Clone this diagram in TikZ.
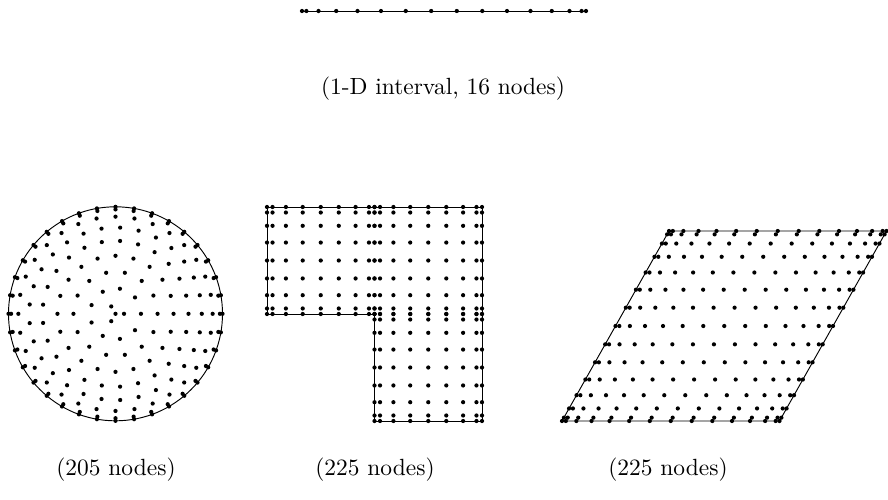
\documentclass[tikz,border=0pt]{standalone}
\usepackage{tikz}
\usetikzlibrary{positioning}

\begin{document}
\begin{tikzpicture}[
  x=0.015cm, y=-0.015cm,
  every node/.style={font=\normalsize, inner sep=0pt},
  edge/.style={line width=0.4pt, black},
  declare function={kte(\a,\b)=asin(0.8*cos(180*\a/\b))/asin(0.8);},
]
 \useasboundingbox (0,0) rectangle (888,500);

 % ---- 1-D interval ----
 \draw[edge] (302,11) -- (586,11);
 \foreach \k in {0,...,15}{
   \pgfmathsetmacro\px{444+142*kte(\k,15)}
   \fill (\px,11) circle[radius=0.9pt];
 }
 \node (lineLbl) at (443,89) {(1-D interval, 16 nodes)};

 % ---- disk: rings of nodes ----
 \coordinate (dc) at (115.5,313.8);
 \draw[edge] (dc) circle[radius=1.605cm];
 \fill (dc) circle[radius=0.9pt];
 \foreach \k/\m in {0/36,1/36,2/32,3/29,4/25,5/20,6/14,7/9,8/3}{
   \pgfmathsetmacro\rr{107*kte(\k,17)}
   \foreach \j in {1,...,\m}{
     \fill[shift={(dc)}] (\j*360/\m:\rr) circle[radius=0.9pt];
   }
 }
 \node (diskLbl) at (116,470) {(205 nodes)};

 % ---- L-shaped domain, three 9x9 blocks ----
 \draw[edge] (267,207) -- (482,207) -- (482,421) -- (374.5,421)
   -- (374.5,314) -- (267,314) -- cycle;
 \foreach \bx/\by in {267/207, 374.5/207, 374.5/314}{
   \foreach \i in {0,...,8}{
     \foreach \j in {0,...,8}{
       \pgfmathsetmacro\px{\bx+53.75*(1-kte(\i,8))}
       \pgfmathsetmacro\py{\by+53.5*(1-kte(\j,8))}
       \fill (\px,\py) circle[radius=0.9pt];
     }
   }
 }
 \node (lLbl) at (375,470) {(225 nodes)};

 % ---- parallelogram, 15x15 ----
 \draw[edge] (562,421) -- (779.5,421) -- (886.5,231) -- (669,231) -- cycle;
 \foreach \i in {0,...,14}{
   \foreach \j in {0,...,14}{
     \pgfmathsetmacro\u{(1-kte(\i,14))/2}
     \pgfmathsetmacro\v{(1-kte(\j,14))/2}
     \fill (562+217.5*\u+107*\v, 421-190*\v) circle[radius=0.9pt];
   }
 }
 \node (rhLbl) at (668,470) {(225 nodes)};

\end{tikzpicture}
\end{document}
